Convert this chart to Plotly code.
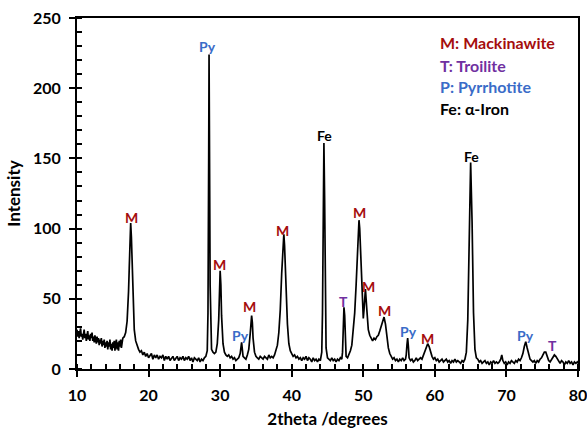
import plotly.graph_objects as go

two_theta = [
    10.0, 10.1, 10.2, 10.3, 10.4, 10.5, 10.6, 10.7, 10.8, 10.9,
    11.0, 11.1, 11.2, 11.3, 11.4, 11.5, 11.6, 11.7, 11.8, 11.9,
    12.0, 12.1, 12.2, 12.3, 12.4, 12.5, 12.6, 12.7, 12.8, 12.9,
    13.0, 13.1, 13.2, 13.3, 13.4, 13.5, 13.6, 13.7, 13.8, 13.9,
    14.0, 14.1, 14.2, 14.3, 14.4, 14.5, 14.6, 14.7, 14.8, 14.9,
    15.0, 15.1, 15.2, 15.3, 15.4, 15.5, 15.6, 15.7, 15.8, 15.9,
    16.0, 16.1, 16.2, 16.3, 16.4,
    16.6, 16.8, 17.0, 17.1, 17.2, 17.3, 17.4, 17.5, 17.6, 17.7, 17.8, 17.9, 18.0, 18.2, 18.4, 18.6, 18.8,
    19.0, 19.2, 19.4, 19.6, 19.8, 20.0, 20.2, 20.4, 20.6, 20.8,
    21.0, 21.2, 21.4, 21.6, 21.8, 22.0, 22.2, 22.4, 22.6, 22.8,
    23.0, 23.2, 23.4, 23.6, 23.8, 24.0, 24.2, 24.4, 24.6, 24.8,
    25.0, 25.2, 25.4, 25.6, 25.8, 26.0, 26.2, 26.4, 26.6, 26.8,
    27.0, 27.2, 27.4, 27.6, 27.8, 28.0, 28.2,
    28.3, 28.4, 28.45, 28.5, 28.6, 28.7, 28.8, 29.0, 29.2, 29.4,
    29.6, 29.8, 29.9, 30.0, 30.1, 30.2, 30.4, 30.6, 30.8, 31.0,
    31.2, 31.4, 31.6, 31.8, 32.0, 32.2, 32.4, 32.6, 32.8, 33.0,
    33.1, 33.2, 33.4, 33.6, 33.8, 34.0, 34.2, 34.4, 34.5, 34.6, 34.8,
    35.0, 35.2, 35.4, 35.6, 35.8, 36.0, 36.2, 36.4, 36.6, 36.8,
    37.0, 37.2, 37.4, 37.6, 37.8, 38.0, 38.2, 38.4, 38.6, 38.8,
    38.9, 39.0, 39.2, 39.4, 39.6, 39.8,
    40.0, 40.2, 40.4, 40.6, 40.8, 41.0, 41.2, 41.4, 41.6, 41.8,
    42.0, 42.2, 42.4, 42.6, 42.8, 43.0, 43.2, 43.4, 43.6, 43.8,
    44.0, 44.2, 44.3, 44.4, 44.5, 44.6, 44.7, 44.8,
    45.0, 45.2, 45.4, 45.6, 45.8, 46.0, 46.2, 46.4, 46.6, 46.8, 47.0,
    47.1, 47.2, 47.3, 47.4, 47.5, 47.6,
    47.8, 48.0, 48.2, 48.4, 48.6, 48.8,
    49.0, 49.2, 49.4, 49.5, 49.6, 49.8,
    50.0, 50.1, 50.2, 50.3, 50.5,
    50.7, 50.9, 51.1, 51.3, 51.5, 51.7, 51.9,
    52.1, 52.3, 52.5, 52.7, 52.9,
    53.1, 53.3, 53.5, 53.7, 53.9,
    54.1, 54.3, 54.5, 54.7, 54.9, 55.1, 55.3, 55.5, 55.7, 55.9,
    56.0, 56.1, 56.2, 56.3, 56.4,
    56.6, 56.8, 57.0, 57.2, 57.4, 57.6, 57.8, 58.0, 58.2, 58.4,
    58.6, 58.8, 59.0, 59.2, 59.4, 59.6, 59.8, 60.0, 60.2, 60.4,
    60.6, 60.8, 61.0, 61.2, 61.4, 61.6, 61.8, 62.0, 62.2, 62.4,
    62.6, 62.8, 63.0, 63.2, 63.4, 63.6, 63.8, 64.0, 64.2,
    64.4, 64.6, 64.8, 65.0, 65.2, 65.4, 65.6, 65.8,
    66.0, 66.2, 66.4, 66.6, 66.8, 67.0, 67.2, 67.4, 67.6, 67.8,
    68.0, 68.2, 68.4, 68.6, 68.8, 69.0, 69.2, 69.35, 69.5,
    69.7, 69.9, 70.1, 70.3, 70.5, 70.7, 70.9, 71.1, 71.3, 71.5,
    71.7, 71.9, 72.1, 72.3, 72.5, 72.7, 72.9, 73.1, 73.3, 73.5, 73.7, 73.9,
    74.1, 74.3, 74.5, 74.7, 74.9, 75.1, 75.3, 75.5, 75.7, 75.9,
    76.1, 76.3, 76.5, 76.7, 76.9, 77.1, 77.3, 77.5, 77.7, 77.9,
    78.1, 78.3, 78.5, 78.7, 78.9, 79.1, 79.3, 79.5, 79.7, 79.9, 80.0,
]

intensity = [
    28, 23, 27, 22, 26, 29, 23, 25, 21, 26,
    28, 22, 25, 20, 24, 27, 21, 24, 20, 25,
    22, 26, 20, 23, 19, 24, 21, 18, 23, 19,
    22, 17, 21, 18, 22, 16, 20, 17, 21, 15,
    19, 16, 20, 14, 19, 16, 21, 14, 18, 13,
    19, 15, 20, 13, 18, 21, 14, 19, 13, 20,
    16, 21, 15, 19, 22,
    23, 26, 34, 42, 55, 72, 92, 104, 94, 72, 50, 36, 28, 20, 16, 14, 12,
    13, 10, 12, 9, 11, 8, 10, 11, 7, 10,
    8, 10, 7, 9, 8, 10, 6, 9, 7, 9,
    6, 8, 9, 6, 8, 9, 6, 8, 7, 9,
    6, 8, 7, 9, 6, 8, 5, 8, 7, 6,
    8, 5, 7, 6, 8, 9, 13,
    40, 150, 224, 170, 60, 22, 14, 12, 11, 12,
    18, 35, 55, 70, 60, 38, 18, 12, 10, 9,
    10, 8, 9, 7, 8, 6, 7, 8, 11, 19,
    14, 9, 8, 7, 10, 14, 25, 38, 33, 22, 12,
    9, 8, 7, 9, 8, 7, 9, 8, 7, 10,
    8, 9, 8, 10, 13, 17, 26, 42, 68, 92,
    96, 88, 58, 32, 18, 13,
    11, 9, 10, 8, 9, 7, 8, 6, 8, 7,
    9, 6, 8, 7, 5, 8, 6, 7, 5, 7,
    6, 12, 40, 110, 161, 120, 50, 15,
    8, 7, 6, 8, 6, 7, 5, 7, 6, 8, 7,
    12, 28, 44, 38, 18, 9,
    8, 10, 13, 17, 27, 40,
    60, 85, 106, 100, 86, 55,
    36, 42, 52, 57, 42,
    28, 24, 22, 20, 22, 21, 23,
    24, 27, 31, 35, 37,
    32, 22, 15, 11, 9,
    7, 8, 6, 7, 5, 7, 6, 8, 6, 7,
    10, 17, 22, 16, 8,
    6, 7, 5, 6, 8, 6, 7, 8, 7, 10,
    12, 15, 18, 16, 12, 9, 7, 8, 6, 7,
    5, 6, 7, 5, 6, 7, 5, 6, 4, 6,
    5, 7, 5, 6, 5, 4, 6, 5, 7,
    12, 35, 100, 147, 105, 40, 14, 8,
    7, 5, 6, 4, 5, 6, 4, 5, 3, 5,
    4, 6, 4, 5, 4, 5, 7, 10, 6,
    4, 5, 3, 5, 4, 6, 5, 4, 6, 5,
    7, 6, 8, 11, 16, 19.5, 15, 10, 7, 6, 5, 6,
    4, 6, 5, 7, 8, 10, 12, 12, 9, 6,
    5, 7, 9, 10, 9, 7, 5, 4, 6, 5,
    3, 5, 4, 6, 4, 5, 3, 5, 4, 5, 4,
]

assert len(two_theta) == len(intensity), (len(two_theta), len(intensity))

# peak labels
peak_labels = ["M", "Py", "M", "Py", "M", "M", "Fe", "T", "M", "M", "M", "Py", "M", "Fe", "Py", "T"]
peak_x = [17.62, 28.27, 29.85, 32.87, 34.17, 38.73, 44.53, 47.28, 49.5, 50.77, 53.0, 56.25, 59.04, 65.09, 72.67, 76.4]
peak_y = [107.8, 230, 74.5, 24.2, 44.4, 98.3, 166, 48.4, 111.3, 59, 41.5, 27, 21.4, 151.7, 24.2, 16.4]

phase_colors = {"M": "#a50d0d", "T": "#7030a0", "Py": "#3a6cc8", "P": "#3a6cc8", "Fe": "#000000"}

legend_keys = ["M", "T", "P", "Fe"]
legend_text = ["M: Mackinawite", "T: Troilite", "P: Pyrrhotite", "Fe: α-Iron"]
legend_y = [232.2, 216.5, 200.9, 185.9]
legend_x = 60.4

FONT = "Lato"

fig = go.Figure()
fig.add_trace(go.Scatter(
    x=two_theta, y=intensity, mode="lines",
    line=dict(color="black", width=1.7),
    hoverinfo="skip",
))

for lab, x, y in zip(peak_labels, peak_x, peak_y):
    fig.add_annotation(
        x=x, y=y, text=lab, showarrow=False, xanchor="center", yanchor="middle",
        font=dict(family=FONT, size=14, color=phase_colors[lab], weight="bold"),
    )

for key, txt, y in zip(legend_keys, legend_text, legend_y):
    fig.add_annotation(
        x=legend_x, y=y, text=txt, showarrow=False, xanchor="left", yanchor="middle",
        font=dict(family=FONT, size=16, color=phase_colors[key], weight="bold"),
    )

axis_common = dict(
    showgrid=False, zeroline=False, automargin=False,
    showline=True, linecolor="black", linewidth=2, mirror=True,
    ticks="outside", ticklen=6, tickwidth=2, tickcolor="black",
    tickfont=dict(family=FONT, size=16, color="black", weight="bold"),
    ticklabelstandoff=5, ticklabeloverflow="allow",
)

fig.update_xaxes(
    range=[10, 80], tick0=10, dtick=10,
    minor=dict(dtick=2, ticks="inside", ticklen=5, tickwidth=1.5, tickcolor="black"),
    title=dict(text="2theta /degrees", font=dict(family=FONT, size=17, color="black", weight="bold"), standoff=10),
    **axis_common,
)
fig.update_yaxes(
    range=[0, 250], tick0=0, dtick=50,
    minor=dict(dtick=10, ticks="inside", ticklen=5, tickwidth=1.5, tickcolor="black"),
    title=dict(text="Intensity", font=dict(family=FONT, size=17, color="black", weight="bold"), standoff=8),
    **axis_common,
)

fig.update_layout(
    width=587, height=429,
    margin=dict(l=77, r=9, t=18, b=60),
    plot_bgcolor="white", paper_bgcolor="white",
    showlegend=False,
)

fig.write_html("out.html")
